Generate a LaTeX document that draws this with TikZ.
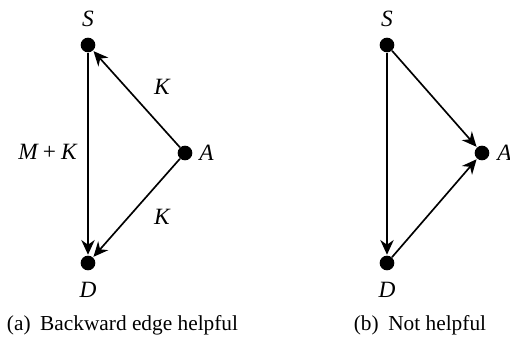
\documentclass[tikz,border=0pt]{standalone}
\usepackage{fontspec}
\setmainfont{Liberation Serif}
\usetikzlibrary{arrows.meta}
\begin{document}
\begin{tikzpicture}[x=0.75pt,y=-0.75pt,
  vtx/.style={circle,fill=black,inner sep=0pt,minimum size=11pt},
  lbl/.style={font=\fontsize{17.5}{20}\selectfont\itshape,inner sep=0pt},
  captxt/.style={font=\fontsize{16}{19}\selectfont,inner sep=0pt},
  conn/.style={-{Stealth[length=11pt,width=10pt,inset=3.5pt]},line width=1.25pt,shorten >=0.5pt}]
\useasboundingbox (0,0) rectangle (510,339);
% (a)
\node[vtx] (S1) at (88,45) {};
\node[vtx] (D1) at (88,263) {};
\node[vtx] (A1) at (185,153) {};
\node[lbl] (lS1) at (88,18.5) {S};
\node[lbl] (lD1) at (88,290) {D};
\node[lbl,anchor=west] (lA1) at (199,153) {A};
\node[lbl] (mk) at (47.5,152) {M\hspace{0.22em}{\upshape +}\hspace{0.22em}K};
\node[lbl] (k1) at (162,87) {K};
\node[lbl] (k2) at (162,217) {K};
\draw[conn] (S1) -- (D1);
\draw[conn] (A1) -- (S1);
\draw[conn] (A1) -- (D1);
\node[captxt] (capa) at (122.5,325) {(a)\hspace{0.45em}Backward edge helpful};
% (b)
\node[vtx] (S2) at (387,45) {};
\node[vtx] (D2) at (387,263) {};
\node[vtx] (A2) at (482,153) {};
\node[lbl] (lS2) at (387,18.5) {S};
\node[lbl] (lD2) at (387,290) {D};
\node[lbl,anchor=west] (lA2) at (497,153) {A};
\draw[conn] (S2) -- (D2);
\draw[conn] (S2) -- (A2);
\draw[conn] (D2) -- (A2);
\node[captxt] (capb) at (420,325) {(b)\hspace{0.45em}Not helpful};
\end{tikzpicture}
\end{document}
